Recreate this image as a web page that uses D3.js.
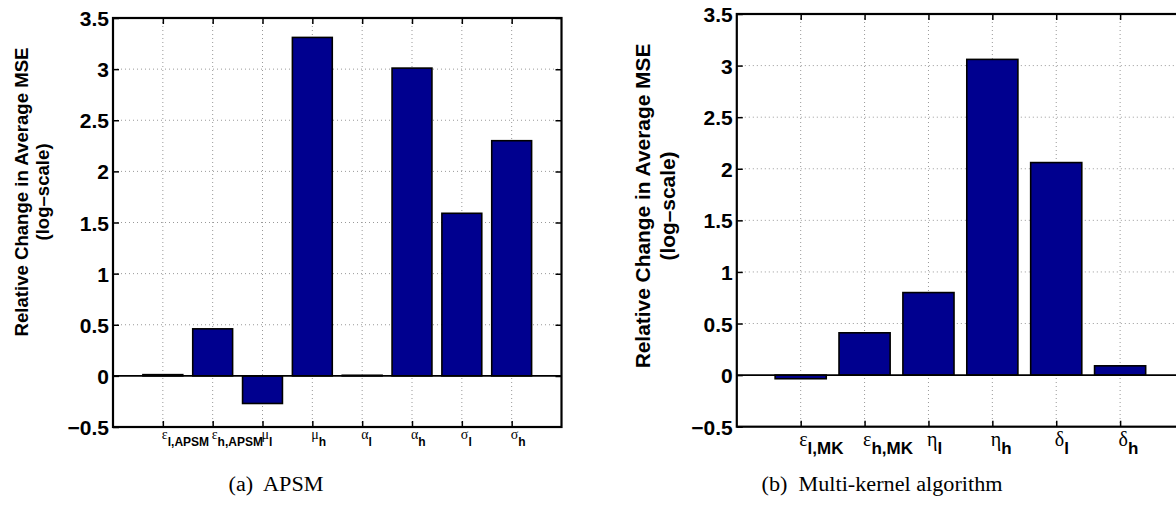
<!DOCTYPE html>
<html>
<head>
<meta charset="utf-8">
<script src="https://cdn.jsdelivr.net/npm/d3@7"></script>
<style>
  html, body { margin: 0; padding: 0; background: #fff; }
  svg { display: block; }
</style>
</head>
<body>
<svg id="chart" width="1176" height="526"></svg>
<script>
// ---------- data ----------
const apsmGreek = ["ε", "ε", "μ", "μ", "α", "α", "σ", "σ"];
const apsmSub = ["l,APSM", "h,APSM", "l", "h", "l", "h", "l", "h"];
const apsmValues = [0.012, 0.46, -0.27, 3.31, 0.006, 3.01, 1.59, 2.30];

const mkGreek = ["ε", "ε", "η", "η", "δ", "δ"];
const mkSub = ["l,MK", "h,MK", "l", "h", "l", "h"];
const mkValues = [-0.035, 0.41, 0.80, 3.06, 2.06, 0.09];

const yTicks = [-0.5, 0, 0.5, 1, 1.5, 2, 2.5, 3, 3.5];
const yDomain = [-0.5, 3.5];
const yTitleLines = ["Relative Change in Average MSE", "(log\u2013scale)"];
const captions = ["(a)  APSM", "(b)  Multi-kernel algorithm"];

// ---------- drawing ----------
const svg = d3.select("#chart");
const barColor = "#00008f";
const fmt = d => d === 0 ? "0" : String(d).replace("-", "\u2212");

function panel(cfg) {
  const n = cfg.values.length;
  const x = d3.scaleLinear().domain([0, n + 1]).range([cfg.left, cfg.right]);
  const y = d3.scaleLinear().domain(yDomain).range([cfg.bottom, cfg.top]);
  const g = svg.append("g");
  const clipId = "clip" + cfg.id;
  g.append("clipPath").attr("id", clipId).append("rect")
    .attr("x", cfg.left).attr("y", cfg.top)
    .attr("width", Math.min(cfg.right, 1176) - cfg.left).attr("height", cfg.bottom - cfg.top);

  const inner = g.append("g").attr("clip-path", `url(#${clipId})`);
  const xt = d3.range(1, n + 1);

  // grid
  inner.selectAll(".hg").data(yTicks.filter(t => t > yDomain[0] && t < yDomain[1] && t !== 0))
    .enter().append("line")
    .attr("x1", cfg.left).attr("x2", cfg.right)
    .attr("y1", d => y(d)).attr("y2", d => y(d))
    .attr("stroke", "#999").attr("stroke-width", 1).attr("stroke-dasharray", "1,3");
  inner.selectAll(".vg").data(xt).enter().append("line")
    .attr("x1", d => x(d)).attr("x2", d => x(d))
    .attr("y1", cfg.top).attr("y2", cfg.bottom)
    .attr("stroke", "#999").attr("stroke-width", 1).attr("stroke-dasharray", "1,3");

  // bars
  inner.selectAll(".bar").data(cfg.values).enter().append("rect")
    .attr("x", (d, i) => x(i + 1 - 0.4))
    .attr("width", (d, i) => x(i + 1 + 0.4) - x(i + 1 - 0.4))
    .attr("y", d => y(Math.max(0, d)))
    .attr("height", d => Math.abs(y(d) - y(0)))
    .attr("fill", barColor).attr("stroke", "#000").attr("stroke-width", 1.6);

  // baseline
  inner.append("line")
    .attr("x1", cfg.left).attr("x2", cfg.right)
    .attr("y1", y(0)).attr("y2", y(0))
    .attr("stroke", "#000").attr("stroke-width", 1.6);

  // axes with inward ticks
  const yAxis = d3.axisLeft(y).tickValues(yTicks).tickFormat(fmt).tickSizeInner(-6).tickSizeOuter(0).tickPadding(4);
  const ya = g.append("g").attr("transform", `translate(${cfg.left},0)`).call(yAxis);
  ya.select(".domain").remove();
  ya.selectAll("line").attr("stroke", "#000").attr("stroke-width", 1.5);
  ya.selectAll("text").attr("font-family", "'Liberation Sans', Arial, sans-serif")
    .attr("font-weight", "bold").attr("font-size", cfg.tickFont).attr("fill", "#000")
    .attr("dy", "0.36em");

  const yr = d3.axisRight(y).tickValues(yTicks).tickFormat("").tickSizeInner(-6).tickSizeOuter(0);
  const yra = inner.append("g").attr("transform", `translate(${cfg.right},0)`).call(yr);
  yra.select(".domain").remove();
  yra.selectAll("line").attr("stroke", "#000").attr("stroke-width", 1.5);

  const xb = d3.axisBottom(x).tickValues(xt).tickFormat("").tickSizeInner(-6).tickSizeOuter(0);
  const xba = inner.append("g").attr("transform", `translate(0,${cfg.bottom})`).call(xb);
  xba.select(".domain").remove();
  xba.selectAll("line").attr("stroke", "#000").attr("stroke-width", 1.5);
  const xtp = d3.axisTop(x).tickValues(xt).tickFormat("").tickSizeInner(-6).tickSizeOuter(0);
  const xta = inner.append("g").attr("transform", `translate(0,${cfg.top})`).call(xtp);
  xta.select(".domain").remove();
  xta.selectAll("line").attr("stroke", "#000").attr("stroke-width", 1.5);

  // box
  g.append("rect")
    .attr("x", cfg.left).attr("y", cfg.top)
    .attr("width", cfg.right - cfg.left).attr("height", cfg.bottom - cfg.top)
    .attr("fill", "none").attr("stroke", "#000").attr("stroke-width", 2.2);

  // x tick labels (greek + bold subscript)
  const lab = g.selectAll(".xl").data(xt).enter().append("text")
    .attr("x", d => x(d) + cfg.labDx)
    .attr("y", cfg.greekY)
    .attr("fill", "#000");
  lab.append("tspan")
    .attr("font-family", "'Liberation Serif', 'Times New Roman', serif")
    .attr("font-size", cfg.greekFont)
    .text((d, i) => cfg.greek[i]);
  lab.append("tspan")
    .attr("font-family", "'Liberation Sans', Arial, sans-serif")
    .attr("font-weight", "bold")
    .attr("font-size", cfg.subFont)
    .attr("dy", cfg.subDy)
    .text((d, i) => cfg.sub[i]);

  // y title
  const yt = g.append("text")
    .attr("transform", `translate(${cfg.titleX},${cfg.titleY}) rotate(-90)`)
    .attr("text-anchor", "middle")
    .attr("font-family", "'Liberation Sans', Arial, sans-serif")
    .attr("font-weight", "bold")
    .attr("font-size", cfg.titleFont)
    .attr("fill", "#000");
  yTitleLines.forEach((t, i) => {
    yt.append("tspan").attr("x", 0).attr("dy", i === 0 ? 0 : cfg.titleLH).text(t);
  });

  // caption
  g.append("text")
    .attr("x", cfg.capX).attr("y", 491)
    .attr("text-anchor", "middle")
    .attr("font-family", "'Liberation Serif', 'Times New Roman', serif")
    .attr("font-size", 20)
    .attr("fill", "#000")
    .attr("xml:space", "preserve")
    .style("white-space", "pre")
    .attr("textLength", cfg.capLen)
    .attr("lengthAdjust", "spacingAndGlyphs")
    .text(cfg.caption);
}

panel({
  id: "a", values: apsmValues, greek: apsmGreek, sub: apsmSub,
  left: 113, right: 561.5, top: 18, bottom: 427,
  tickFont: 21, greekFont: 14, subFont: 12, subDy: 7, greekY: 439, labDx: -1,
  titleX: 28, titleY: 192, titleFont: 18.6, titleLH: 21,
  capX: 276, capLen: 95, caption: captions[0]
});

panel({
  id: "b", values: mkValues, greek: mkGreek, sub: mkSub,
  left: 736.8, right: 1184, top: 14, bottom: 426.7,
  tickFont: 21, greekFont: 20, subFont: 17, subDy: 8, greekY: 446, labDx: -1.5,
  titleX: 650, titleY: 206, titleFont: 20.9, titleLH: 25,
  capX: 882, capLen: 241, caption: captions[1]
});
</script>
</body>
</html>
